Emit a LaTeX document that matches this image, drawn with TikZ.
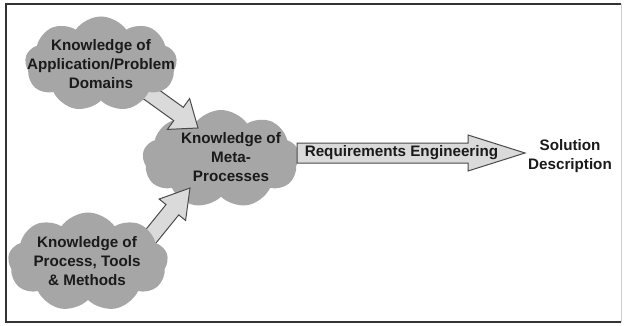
\documentclass[tikz,border=0pt]{standalone}
\usepackage{fontspec}
\setmainfont{Liberation Sans}
\usetikzlibrary{shapes.symbols,calc}
\definecolor{cloudgray}{HTML}{A6A6A6}
\definecolor{arrowfill}{HTML}{DADADA}
\definecolor{arrowline}{HTML}{4A4A4A}
\definecolor{textdark}{HTML}{1A1A1A}
\tikzset{
  cloudbox/.style={cloud, cloud puffs=9, cloud puff arc=110, aspect=1.6,
    fill=cloudgray, draw=none, inner sep=0pt},
  cloudtext/.style={align=center, text=textdark, inner sep=0pt,
    font=\fontsize{15.2}{19}\selectfont\bfseries},
  barrow/.style={fill=arrowfill, draw=arrowline, line width=1pt, line join=miter},
  frameline/.style={draw=black!80, line width=1.6pt}
}
% block arrow: tail, tip, shaft half width, head half width, head length
\newcommand\blockarrow[5]{%
  \coordinate (hb) at ($(#2)!#5!(#1)$);
  \draw[barrow] ($(#1)!#3!90:(#2)$) -- ($(hb)!#3!-90:(#1)$) -- ($(hb)!#4!-90:(#1)$)
    -- (#2) -- ($(hb)!#4!90:(#1)$) -- ($(hb)!#3!90:(#1)$) -- ($(#1)!#3!-90:(#2)$) -- cycle;
}
\begin{document}
\begin{tikzpicture}[x=1pt,y=-1pt]
\useasboundingbox (0,0) rectangle (626,326);
\fill[white] (0,0) rectangle (626,326);
% frame
\coordinate (fTL) at (6,4);
\coordinate (fTR) at (621,4);
\coordinate (fBL) at (6,322);
\coordinate (fBR) at (621,322);
\draw[frameline] (fTR) -- (fTL) -- (fBL) -- (fBR);
\draw[draw=black!20, line width=0.8pt] (fTR) -- (fBR);

% middle cloud
\node[cloudbox, minimum width=157pt, minimum height=98pt] (c2) at (221,159) {};

% arrow coordinates
\coordinate (a1tail) at (141,87);
\coordinate (a1tip) at (198,128);
\coordinate (a2tail) at (143,246);
\coordinate (a2tip) at (190,188);
\coordinate (a3tail) at (297,153);
\coordinate (a3tip) at (525,153);

\blockarrow{a1tail}{a1tip}{8.2pt}{19pt}{24pt}
\blockarrow{a2tail}{a2tip}{8.2pt}{17pt}{28pt}
\blockarrow{a3tail}{a3tip}{10pt}{18pt}{57pt}

% outer clouds
\node[cloudbox, minimum width=152pt, minimum height=95pt, shape border rotate=10] (c1) at (101,64) {};
\node[cloudbox, minimum width=160pt, minimum height=99pt, shape border rotate=-10] (c3) at (88,262) {};

% texts
\node[cloudtext] (t1) at (101,64) {Knowledge of\\Application/Problem\\Domains};
\node[cloudtext] (t2) at (231,157) {Knowledge of\\Meta-\\Processes};
\node[cloudtext] (t3) at (87,261) {Knowledge of\\Process, Tools\\\& Methods};
\node[cloudtext] (t4) at (401.5,153) {Requirements Engineering};
\node[cloudtext] (t5) at (570,156) {Solution\\Description};
\end{tikzpicture}
\end{document}
